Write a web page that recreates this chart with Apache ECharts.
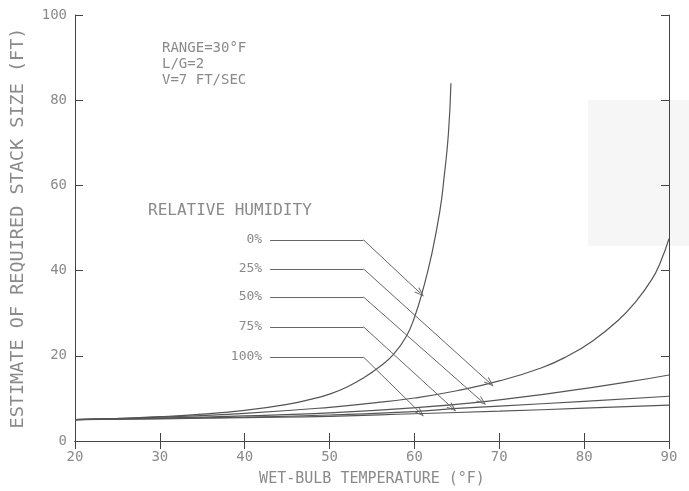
<!DOCTYPE html>
<html>
<head>
<meta charset="utf-8">
<script src="https://cdn.jsdelivr.net/npm/echarts@6/dist/echarts.min.js"></script>
<style>
html, body { margin: 0; padding: 0; background: #fff; }
#chart { width: 689px; height: 491px; }
</style>
</head>
<body>
<div id="chart"></div>
<script>
// tick labels
var xTicks = [20, 30, 40, 50, 60, 70, 80, 90];
var yTicks = [0, 20, 40, 60, 80, 100];

// curves: [wet-bulb temp, stack size]
var rh0 = [[20, 5], [25, 5.3], [30, 5.7], [35, 6.3], [40, 7.2], [45, 8.6], [48, 9.9], [50, 11.0], [52, 12.6], [54, 14.8], [56, 17.6], [57.5, 20.3], [59, 24.4], [60, 29], [61, 35.5], [62, 43.5], [63, 54], [63.5, 62], [64, 72], [64.3, 84]];
var rh25 = [[20, 5], [30, 5.6], [40, 6.5], [50, 7.9], [55, 8.9], [60, 10.1], [65, 11.8], [70, 14.1], [75, 17.2], [78, 19.9], [81, 23.5], [84, 28.3], [86, 32.5], [88, 38], [89, 42], [90, 47.5]];
var rh50 = [[20, 5], [30, 5.4], [40, 5.9], [50, 6.6], [60, 7.8], [68, 9.2], [75, 10.9], [80, 12.3], [85, 13.8], [90, 15.5]];
var rh75 = [[20, 5], [30, 5.3], [40, 5.6], [50, 6.1], [60, 6.9], [64.5, 7.6], [70, 8.2], [80, 9.3], [90, 10.5]];
var rh100 = [[20, 5], [30, 5.2], [40, 5.5], [50, 5.8], [60, 6.4], [70, 7.0], [80, 7.7], [90, 8.4]];

// leader labels and arrows
var rhLabels = ['0%', '25%', '50%', '75%', '100%'];
var leaderY = [47.2, 40.4, 33.8, 26.8, 19.7];
var leaderStartX = 43;
var leaderBendX = 54;
var arrowTipX = [60.7, 68.9, 68.0, 64.5, 60.7];
var arrowTipY = [34.7, 13.6, 9.2, 7.7, 6.6];

var notes = ['RANGE=30\u00B0F', 'L/G=2', 'V=7 FT/SEC'];

var ink = '#555';
var textGrey = '#8a8a8a';
var mono = 'DejaVu Sans Mono';
var arrowPath = 'path://M5,0L10,12L8.6,12L5,3.4L1.4,12L0,12Z';

var chart = echarts.init(document.getElementById('chart'));

function curve(name, data) {
    return {
        name: name,
        type: 'line',
        data: data,
        smooth: 0.5,
        showSymbol: false,
        symbol: 'none',
        lineStyle: { color: ink, width: 1.2 },
        z: 3
    };
}

var series = [
    curve('0%', rh0),
    curve('25%', rh25),
    curve('50%', rh50),
    curve('75%', rh75),
    curve('100%', rh100)
];

// leader lines with arrow heads
rhLabels.forEach(function (lab, i) {
    series.push({
        name: 'leader ' + lab,
        type: 'line',
        data: [],
        markLine: {
            silent: true,
            animation: false,
            symbol: ['none', 'none'],
            label: { show: false },
            lineStyle: { color: '#666', width: 1, type: 'solid' },
            emphasis: { disabled: true },
            data: [
                [{ coord: [leaderStartX, leaderY[i]] }, { coord: [leaderBendX, leaderY[i]] }],
                [{ coord: [leaderBendX, leaderY[i]] },
                 { coord: [arrowTipX[i], arrowTipY[i]], symbol: arrowPath, symbolSize: [7, 10] }]
            ]
        }
    });
});

var axisCommon = {
    type: 'value',
    splitLine: { show: false },
    axisLine: { show: true, lineStyle: { color: '#444', width: 1 } },
    axisTick: { show: true, inside: true, length: 8, lineStyle: { color: '#444' } }
};

var option = {
    animation: false,
    backgroundColor: '#fff',
    grid: { left: 75, right: 20, top: 15, bottom: 50, containLabel: false, outerBoundsMode: 'none' },
    xAxis: [
        Object.assign({}, axisCommon, {
            min: 20, max: 90, interval: 10,
            position: 'bottom',
            name: 'WET-BULB TEMPERATURE (\u00B0F)',
            nameLocation: 'middle',
            nameGap: 31,
            nameTextStyle: { color: textGrey, fontFamily: mono, fontSize: 15 },
            axisLabel: { color: textGrey, fontFamily: mono, fontSize: 14, margin: 9 }
        }),
        Object.assign({}, axisCommon, {
            min: 20, max: 90, interval: 10,
            position: 'top',
            axisLabel: { show: false }
        })
    ],
    yAxis: [
        Object.assign({}, axisCommon, {
            min: 0, max: 100, interval: 20,
            position: 'left',
            name: 'ESTIMATE OF REQUIRED STACK SIZE (FT)',
            nameLocation: 'middle',
            nameGap: 47,
            nameTextStyle: { color: textGrey, fontFamily: mono, fontSize: 18.5 },
            axisLabel: { color: textGrey, fontFamily: mono, fontSize: 14, margin: 8 }
        }),
        Object.assign({}, axisCommon, {
            min: 0, max: 100, interval: 20,
            position: 'right',
            axisLabel: { show: false }
        })
    ],
    series: series
};

chart.setOption(option);

// text annotations; RH labels placed from the leader start points
var graphics = [{
    type: 'rect',
    z: -10,
    shape: { x: 588, y: 100, width: 101, height: 146 },
    style: { fill: '#f6f6f6' }
}];
notes.forEach(function (t, i) {
    graphics.push({
        type: 'text', left: 162, top: 41 + i * 16,
        style: { text: t, fill: textGrey, font: '14px "' + mono + '"' }
    });
});
graphics.push({
    type: 'text', left: 148, top: 203,
    style: { text: 'RELATIVE HUMIDITY', fill: textGrey, font: '16px "' + mono + '"' }
});
rhLabels.forEach(function (lab, i) {
    var p = chart.convertToPixel({ gridIndex: 0 }, [leaderStartX, leaderY[i]]);
    graphics.push({
        type: 'text', x: p[0] - 8, y: p[1],
        style: { text: lab, fill: textGrey, font: '13px "' + mono + '"', align: 'right', verticalAlign: 'middle' }
    });
});
chart.setOption({ graphic: graphics });
</script>
</body>
</html>
